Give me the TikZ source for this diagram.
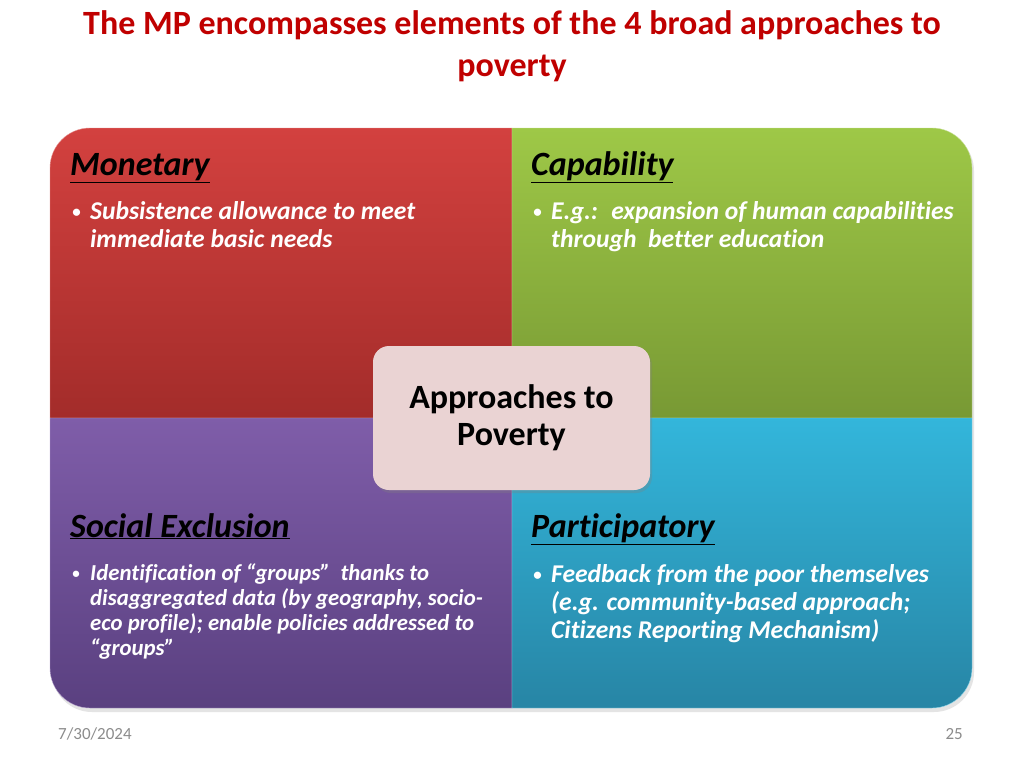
\documentclass[tikz,border=0pt]{standalone}
\usepackage{fontspec}
\setmainfont[RawFeature={-liga;-clig;-calt;-dlig}]{Carlito}
\usetikzlibrary{positioning}
\usetikzlibrary{shadows}

\definecolor{titlered}{HTML}{C00000}
\definecolor{monetop}{HTML}{D3413F}
\definecolor{monebot}{HTML}{A32C2A}
\definecolor{capatop}{HTML}{9EC847}
\definecolor{capabot}{HTML}{789934}
\definecolor{socitop}{HTML}{7F5DA9}
\definecolor{socibot}{HTML}{5A4080}
\definecolor{partitop}{HTML}{33B6DB}
\definecolor{partibot}{HTML}{2785A5}
\definecolor{corefill}{HTML}{EAD3D3}
\definecolor{footgrey}{HTML}{8C8C8C}

\tikzset{
  heading/.style={anchor=base west,inner sep=0pt,font=\fontsize{34}{40}\selectfont\bfseries\itshape},
  pointtext/.style={anchor=base west,inner sep=0pt,align=left,text=white,font=\fontsize{25.6}{28}\selectfont\bfseries\itshape},
  pointdot/.style={anchor=base east,inner sep=0pt,text=white,font=\fontsize{17}{20}\selectfont\bfseries},
}

\begin{document}
\begin{tikzpicture}[x=1pt,y=-1pt]
\useasboundingbox (0,0) rectangle (1024,768);
\fill[white] (0,0) rectangle (1024,768);

\node[anchor=base,inner sep=0pt,font=\fontsize{34}{42}\selectfont\bfseries,text=titlered,align=center] (title) at (512,77) {The MP encompasses elements of the 4 broad approaches to\\poverty};

% the four quadrants
\fill[black!30,opacity=0.35,rounded corners=40pt] (52,131) rectangle (974,712);
\shade[top color=monetop,bottom color=monebot,draw=monetop!55!white] (512,418) -- (50,418) -- (50,168) arc[start angle=180,end angle=270,radius=40] -- (512,128) -- cycle;
\shade[top color=capatop,bottom color=capabot,draw=capatop!55!white] (512,418) -- (512,128) -- (932,128) arc[start angle=270,end angle=360,radius=40] -- (972,418) -- cycle;
\shade[top color=socitop,bottom color=socibot,draw=socitop!55!white] (512,418) -- (50,418) -- (50,668) arc[start angle=180,end angle=90,radius=40] -- (512,708) -- cycle;
\shade[top color=partitop,bottom color=partibot,draw=partitop!55!white] (512,418) -- (972,418) -- (972,668) arc[start angle=0,end angle=90,radius=40] -- (512,708) -- cycle;

\node[heading] (monetary) at (70,175) {\underline{Monetary}};
\node[pointtext] (monetary text) at (90,247) {Subsistence allowance to meet\\immediate basic needs};
\node[pointdot] (monetary dot) at (81,217) {\textbullet};

\node[heading] (capability) at (531,175) {\underline{Capability}};
\node[pointtext] (capability text) at (551,247) {E.g.:~ expansion of human capabilities\\through~ better education};
\node[pointdot] (capability dot) at (542,217) {\textbullet};

\node[heading] (social) at (70,537) {\underline{Social Exclusion}};
\node[pointtext,font=\fontsize{22.8}{25}\selectfont\bfseries\itshape] (social text) at (90,655) {Identification of “groups”~ thanks to\\disaggregated data (by geography, socio-\\eco profile); enable policies addressed to\\“groups”};
\node[pointdot,font=\fontsize{15}{18}\selectfont\bfseries] (social dot) at (80,578) {\textbullet};

\node[heading] (participatory) at (531,537) {\underline{Participatory}};
\node[pointtext] (participatory text) at (551,638) {Feedback from the poor themselves\\(e.g. community-based approach;\\Citizens Reporting Mechanism)};
\node[pointdot] (participatory dot) at (542,580) {\textbullet};

% centre box
\node[fill=corefill,rounded corners=16pt,minimum width=277pt,minimum height=144pt,align=center,font=\fontsize{34}{37}\selectfont\bfseries,drop shadow={opacity=0.3,shadow xshift=2pt,shadow yshift=-3pt}] (core) at (511.5,418) {Approaches to\\Poverty};

\node[anchor=base west,inner sep=0pt,text=footgrey,font=\fontsize{17}{20}\selectfont] (date) at (58,739) {7/30/2024};
\node[anchor=base east,inner sep=0pt,text=footgrey,font=\fontsize{17}{20}\selectfont] (page) at (963,739) {25};
\end{tikzpicture}
\end{document}
